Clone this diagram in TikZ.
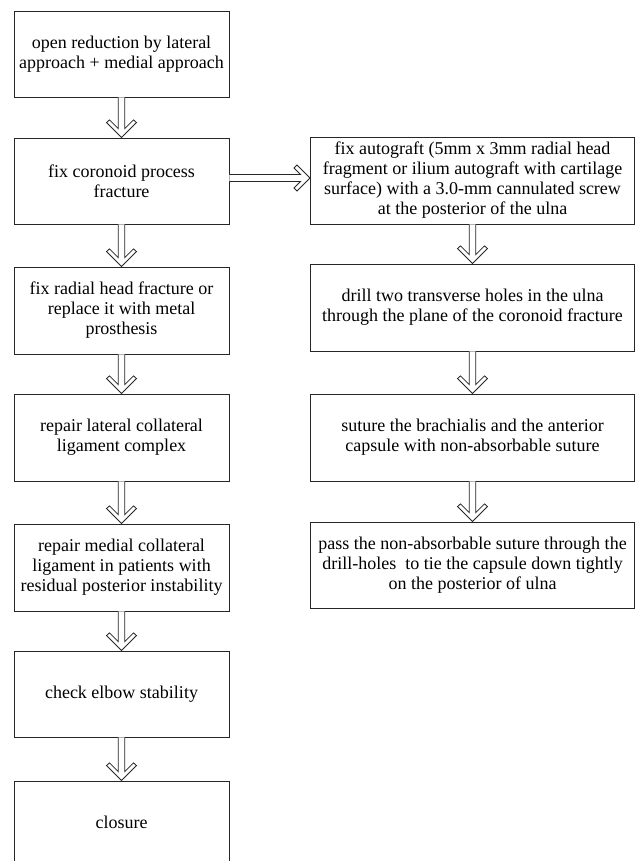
\documentclass[tikz,border=0pt]{standalone}
\usepackage{fontspec}
\setmainfont{Liberation Serif}
\usetikzlibrary{calc}
\tikzset{
 box/.style={draw=black!85, line width=0.9pt, align=center, inner sep=2pt, font=\fontsize{18}{20}\selectfont},
 lbox/.style={box, minimum width=215pt},
 rbox/.style={box, minimum width=324pt},
 chev/.style={draw=black!85, line width=0.8pt, fill=white, line join=miter},
}
\newcommand\downchev[2]{%
 \draw[chev] let \p1=(#1.south), \p2=(#2.north) in
  (\x2-3.3pt,\y1) -- (\x2-3.3pt,\y2+9pt) -- (\x2-12pt,\y2+17.7pt) -- (\x2-15pt,\y2+15pt) -- (\x2,\y2)
  -- (\x2+15pt,\y2+15pt) -- (\x2+12pt,\y2+17.7pt) -- (\x2+3.3pt,\y2+9pt) -- (\x2+3.3pt,\y1);}
\newcommand\rightchev[2]{%
 \draw[chev] let \p1=(#1), \p2=(#2.west) in
  (\x1,\y1+3.5pt) -- (\x2-9.5pt,\y1+3.5pt) -- (\x2-16pt,\y1+10pt) -- (\x2-13pt,\y1+13pt) -- (\x2,\y1)
  -- (\x2-13pt,\y1-13pt) -- (\x2-16pt,\y1-10pt) -- (\x2-9.5pt,\y1-3.5pt) -- (\x1,\y1-3.5pt);}
\begin{document}
\begin{tikzpicture}[x=1pt,y=-1pt]
\clip (0,0) rectangle (637,861);
\fill[white] (0,0) rectangle (637,861);
\node[lbox, minimum height=86pt] (b1) at (121.5,54) {open reduction by lateral\\approach + medial approach};
\node[lbox, minimum height=86pt] (b2) at (121.5,181) {fix coronoid process\\fracture};
\node[lbox, minimum height=87pt] (b3) at (121.5,310.5) {fix radial head fracture or\\replace it with metal\\prosthesis};
\node[lbox, minimum height=87pt] (b4) at (121.5,437.5) {repair lateral collateral\\ligament complex};
\node[lbox, minimum height=87pt] (b5) at (121.5,567.5) {repair medial collateral\\ligament in patients with\\residual posterior instability};
\node[lbox, minimum height=86pt] (b6) at (121.5,694) {check elbow stability};
\node[lbox, minimum height=82pt] (b7) at (121.5,822) {closure};
\node[rbox, minimum height=87pt] (r1) at (472.5,180.5) {fix autograft (5mm x 3mm radial head\\fragment or ilium autograft with cartilage\\surface) with a 3.0-mm cannulated screw\\at the posterior of the ulna};
\node[rbox, minimum height=87pt] (r2) at (472.5,307.5) {drill two transverse holes in the ulna\\through the plane of the coronoid fracture};
\node[rbox, minimum height=87pt] (r3) at (472.5,437.5) {suture the brachialis and the anterior\\capsule with non-absorbable suture};
\node[rbox, minimum height=86pt] (r4) at (472.5,565) {pass the non-absorbable suture through the\\drill-holes\ \ to tie the capsule down tightly\\on the posterior of ulna};
\coordinate (hstart) at ($(b2.east)+(0,-3)$);
\downchev{b1}{b2}
\downchev{b2}{b3}
\downchev{b3}{b4}
\downchev{b4}{b5}
\downchev{b5}{b6}
\downchev{b6}{b7}
\downchev{r1}{r2}
\downchev{r2}{r3}
\downchev{r3}{r4}
\rightchev{hstart}{r1}
\end{tikzpicture}
\end{document}
